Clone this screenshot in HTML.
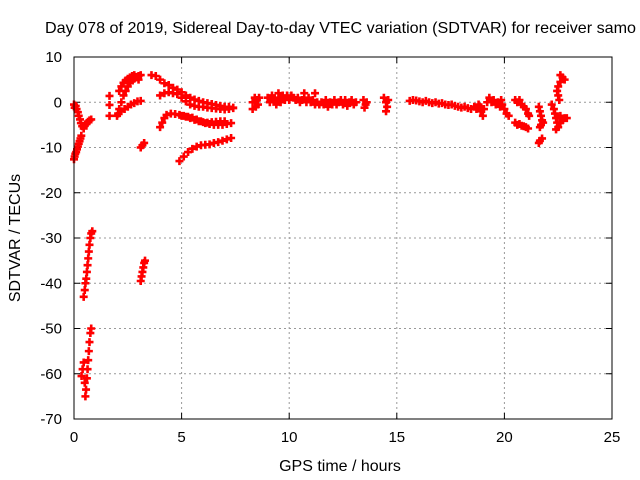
<!DOCTYPE html>
<html><head><meta charset="utf-8"><style>
html,body{margin:0;padding:0;background:#fff;}
svg{display:block;font-family:"Liberation Sans",sans-serif;}
</style></head><body>
<svg id="chart" width="640" height="480">
<rect width="640" height="480" fill="#fff"/>
<text x="45" y="33" font-size="16" textLength="591" lengthAdjust="spacingAndGlyphs">Day 078 of 2019, Sidereal Day-to-day VTEC variation (SDTVAR) for receiver samo</text>
<g id="grid"></g>
<g id="ticks"></g>
<g id="marks"></g>
<rect x="74" y="57" width="538" height="362" fill="none" stroke="#000" stroke-width="1"/>
<text x="340" y="471" font-size="16" text-anchor="middle">GPS time / hours</text>
<text transform="translate(20,238) rotate(-90)" font-size="16" text-anchor="middle">SDTVAR / TECUs</text>
</svg>
<script>
const xTicks=[0,5,10,15,20,25];
const yTicks=[-70,-60,-50,-40,-30,-20,-10,0,10];
const trackA=[[0,-0.5],[0.03,-1.2],[0.08,-0.8],[0.12,-1.5],[0.18,-2.2],[0.22,-3],[0.28,-3.8],[0.32,-4.6],[0.38,-5.3],[0.45,-5.8],[0.5,-5.2],[0.58,-4.8],[0.65,-4.3],[0.72,-4],[0.8,-3.8]];
const trackB=[[0,-12.6],[0.03,-12],[0.06,-11.4],[0.1,-11],[0.14,-10.4],[0.18,-9.8],[0.22,-9.2],[0.26,-8.6],[0.3,-8],[0.34,-7.4]];
const trackC=[[0.45,-43],[0.5,-41.5],[0.53,-40],[0.57,-39],[0.6,-37.5],[0.63,-36],[0.66,-34.5],[0.69,-33],[0.72,-31.5],[0.76,-30],[0.8,-29],[0.85,-28.5]];
const trackD=[[0.35,-60.5],[0.4,-59],[0.45,-57.5],[0.5,-62],[0.53,-65],[0.56,-63.5],[0.6,-61],[0.63,-59],[0.66,-57],[0.69,-55],[0.72,-53],[0.76,-51],[0.8,-50]];
const trackE=[[3.1,-39.5],[3.14,-38.5],[3.18,-37.5],[3.22,-36.5],[3.26,-35.5],[3.3,-35]];
const trackF=[[3.1,-10],[3.18,-9.5],[3.26,-9]];
const trackIso=[[1.65,1.4],[1.65,-0.6],[1.65,-3]];
const trackG1=[[2.0,-3],[2.1,-1.5],[2.2,0],[2.3,1.5],[2.4,2.5],[2.5,3.5],[2.6,4.2],[2.7,4.8],[2.8,5.2],[2.9,5.5],[3.0,5.8],[3.1,6]];
const trackG1b=[[2.1,2.5],[2.2,3.5],[2.3,4.3],[2.4,4.8],[2.5,5.2],[2.6,5.5],[2.7,5.8],[2.8,6],[2.9,5.6],[3.0,5]];
const trackG2=[[2.05,-2.5],[2.2,-2],[2.35,-1.5],[2.5,-1],[2.65,-0.5],[2.8,-0.2],[2.95,0.2],[3.1,0.3]];
const trackH=[[3.6,6],[3.8,5.8],[4.0,5],[4.2,4.2],[4.4,3.8],[4.6,3.2],[4.8,2.8],[5.0,2.2],[5.2,1.5],[5.4,1.0],[5.6,0.6],[5.8,0.3],[6.0,0],[6.2,-0.2],[6.4,-0.4],[6.6,-0.6],[6.8,-0.8],[7.0,-1],[7.2,-1],[7.4,-1.2]];
const trackH2=[[4.0,1.5],[4.2,2],[4.4,2.2],[4.6,2],[4.8,1.8],[5.0,1],[5.2,0.2],[5.4,-0.5],[5.6,-0.8],[5.8,-1],[6.0,-1],[6.2,-1.2],[6.4,-1.3],[6.6,-1.4],[6.8,-1.5],[7.0,-1.6],[7.2,-1.5],[7.4,-1.3]];
const trackI=[[4.0,-5.5],[4.1,-4.5],[4.2,-3.5],[4.3,-2.8],[4.5,-2.5],[4.7,-2.6],[4.9,-2.8],[5.1,-3],[5.3,-3.2],[5.5,-3.4],[5.7,-3.8],[5.9,-4.2],[6.1,-4.6],[6.3,-4.8],[6.5,-5],[6.7,-5],[6.9,-5],[7.1,-4.8],[7.3,-4.6]];
const trackI2=[[5.0,-3],[5.2,-3.2],[5.4,-3.5],[5.6,-3.9],[5.8,-4.2],[6.0,-4.4],[6.2,-4.5],[6.4,-4.4],[6.6,-4.3],[6.8,-4.2],[7.0,-4.2]];
const trackJ=[[4.9,-13],[5.1,-12],[5.3,-11],[5.5,-10.3],[5.7,-9.8],[5.9,-9.5],[6.1,-9.4],[6.3,-9.3],[6.5,-9],[6.7,-8.8],[6.9,-8.5],[7.1,-8.2],[7.3,-7.9]];
const trackK=[[8.3,0],[8.4,1],[8.45,-1],[8.5,0.5],[8.55,-0.5],[8.6,1],[8.3,-1.5]];
const trackL=[[9.0,1],[9.1,0],[9.2,1.5],[9.3,0.5],[9.4,-0.5],[9.5,1],[9.6,0],[9.7,1.5],[9.8,0.5],[9.5,2]];
const trackM=[[9.9,1.5],[10.0,0.5],[10.1,1.5],[10.2,1],[10.3,0.5],[10.4,1],[10.5,0],[10.6,0.5],[10.7,1],[10.8,0],[10.9,1],[11.0,0],[11.1,0.5],[11.2,-0.5],[11.3,0],[11.4,-0.5],[11.5,0],[11.6,-0.5],[11.7,0.5],[11.8,-1],[11.9,0],[12.0,-0.5],[12.1,0.5],[12.2,-0.5],[12.3,0],[11.2,2],[10.7,2]];
const trackN=[[12.4,0.5],[12.5,-0.5],[12.6,0.5],[12.7,-0.8],[12.8,0],[12.9,0.5],[13.0,-0.5],[13.1,0]];
const trackO=[[13.45,0.5],[13.55,-0.5],[13.6,0],[13.5,-1.2]];
const trackP=[[14.4,1],[14.5,0],[14.55,-1],[14.6,0.5],[14.5,-2]];
const trackQ=[[15.6,0.3],[15.75,0.5],[15.9,0.4],[16.05,0.2],[16.2,0],[16.35,0.3],[16.5,0],[16.65,-0.2],[16.8,0],[16.95,-0.3],[17.1,-0.2],[17.25,-0.5],[17.4,-0.6],[17.55,-0.5],[17.7,-0.8],[17.85,-1],[18.0,-1.2],[18.15,-1],[18.3,-1.3],[18.45,-1.5]];
const trackR=[[18.6,-1],[18.7,-1.5],[18.8,-0.5],[18.9,-2],[19.0,-3],[18.85,-1],[19.05,-1.5]];
const trackS=[[19.2,0],[19.3,1],[19.4,0],[19.5,0.5],[19.6,-0.5],[19.7,0],[19.8,-1],[19.9,-0.5],[20.0,-1.5],[20.1,-2.5],[20.2,-3],[19.85,0.5]];
const trackT=[[20.5,0.5],[20.6,0],[20.7,0.5],[20.8,-0.5],[20.9,-1],[21.0,-1.5],[21.1,-2.5],[21.15,-3]];
const trackT2=[[20.5,-4.5],[20.6,-5],[20.7,-4.8],[20.8,-5.2],[20.9,-5.3],[21.0,-5.5],[21.1,-5.8]];
const trackU=[[21.6,-1],[21.65,-2],[21.7,-3],[21.75,-4],[21.7,-5],[21.65,-5.5],[21.8,-4.5]];
const trackU2=[[21.65,-8.5],[21.75,-8],[21.6,-9]];
const trackV=[[22.6,6],[22.7,5.5],[22.8,5],[22.6,4.5],[22.5,3.5],[22.45,2.5],[22.5,1.5],[22.55,0.5]];
const trackV2=[[22.2,-0.5],[22.3,-1.5],[22.35,-2.5],[22.4,-3.5],[22.45,-4.5],[22.5,-5.5],[22.4,-6],[22.6,-4.5],[22.7,-4],[22.8,-3.5],[22.9,-3.5],[22.6,-3]];
const tracks=[trackA,trackB,trackC,trackD,trackE,trackF,trackIso,trackG1,trackG1b,trackG2,trackH,trackH2,trackI,trackI2,trackJ,trackK,trackL,trackM,trackN,trackO,trackP,trackQ,trackR,trackS,trackT,trackT2,trackU,trackU2,trackV,trackV2];

const NS='http://www.w3.org/2000/svg';
const L=74,R=612,T=57,B=419,xmin=0,xmax=25,ymin=-70,ymax=10;
function sx(v){return L+(v-xmin)/(xmax-xmin)*(R-L);}
function sy(v){return B-(v-ymin)/(ymax-ymin)*(B-T);}
function mk(tag,attrs,parent){const e=document.createElementNS(NS,tag);for(const k in attrs)e.setAttribute(k,attrs[k]);parent.appendChild(e);return e;}
const grid=document.getElementById('grid'),ticks=document.getElementById('ticks'),marks=document.getElementById('marks');
xTicks.forEach(v=>{
  const x=sx(v);
  if(v>xmin&&v<xmax){const g=mk('line',{x1:x,x2:x,y1:T,y2:B,stroke:'#999','stroke-dasharray':'2,3'},grid);
  
  }
  mk('line',{x1:x,x2:x,y1:B,y2:B-6,stroke:'#000'},ticks);
  mk('line',{x1:x,x2:x,y1:T,y2:T+6,stroke:'#000'},ticks);
  const t=mk('text',{x:x,y:B+23,'font-size':15,'text-anchor':'middle'},ticks);
  t.textContent=v;
  
  
});
yTicks.forEach(v=>{
  const y=sy(v);
  if(v>ymin&&v<ymax){const g=mk('line',{x1:L,x2:R,y1:y,y2:y,stroke:'#999','stroke-dasharray':'2,3'},grid);
  
  }
  mk('line',{x1:L,x2:L+6,y1:y,y2:y,stroke:'#000'},ticks);
  mk('line',{x1:R,x2:R-6,y1:y,y2:y,stroke:'#000'},ticks);
  const t=mk('text',{x:L-12,y:y+5,'font-size':15,'text-anchor':'end'},ticks);
  t.textContent=v;
  
  
});
let d='';
tracks.forEach(tr=>tr.forEach(p=>{
  const x=sx(p[0]),y=sy(p[1]);
  d+=`M${x-4},${y}h8M${x},${y-4}v8`;
}));
const path=mk('path',{d:d,stroke:'#f00','stroke-width':2.6,fill:'none'},marks);


</script>
</body></html>
